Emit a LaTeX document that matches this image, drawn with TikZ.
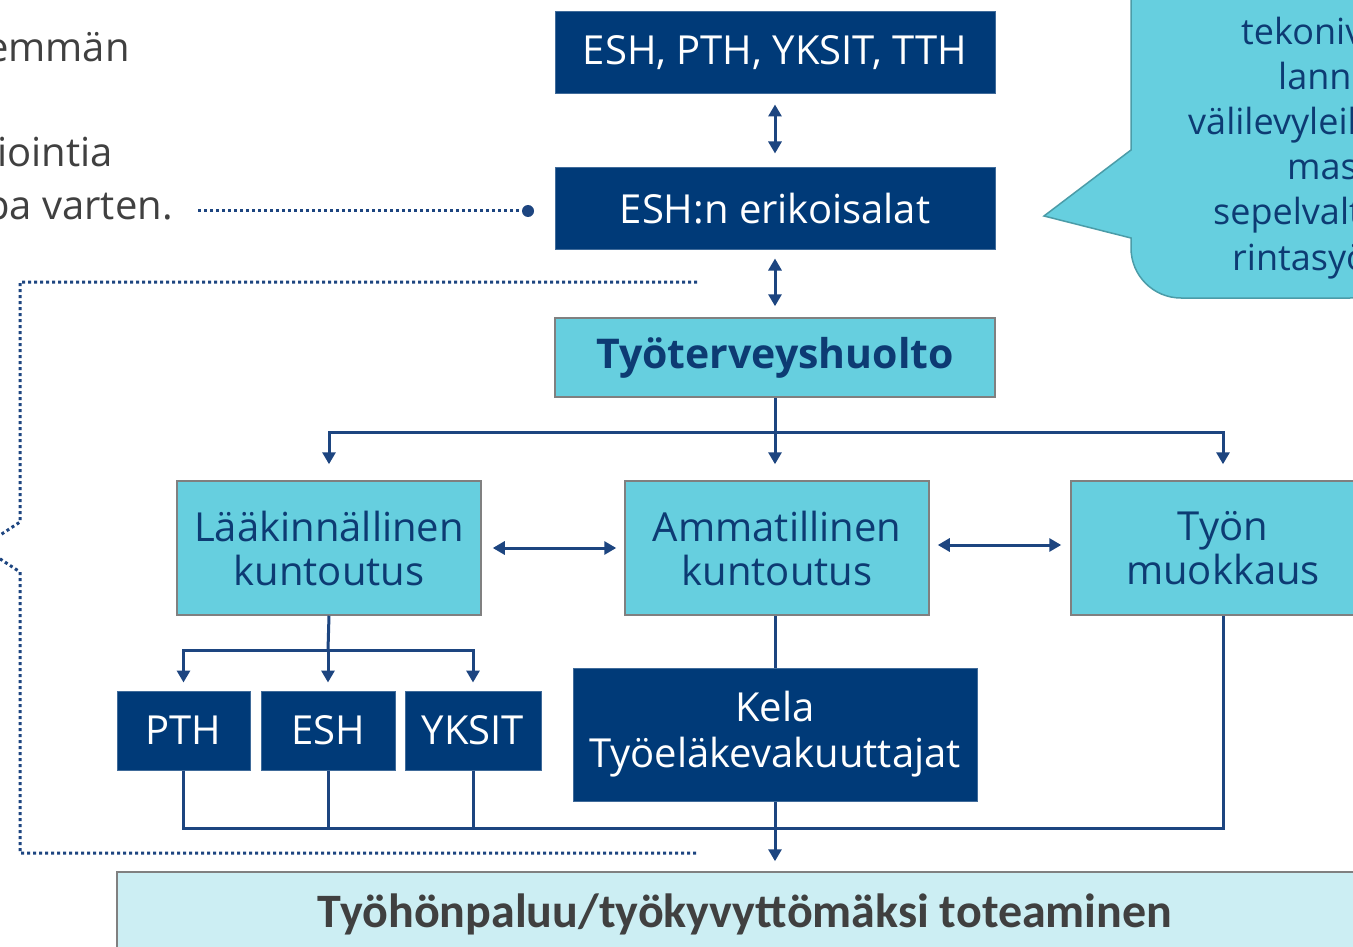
\documentclass[tikz,border=0pt]{standalone}
\usepackage{fontspec}
\setmainfont{Open Sans}
\newfontfamily\carlito{Carlito}
\usetikzlibrary{arrows.meta}

\definecolor{eshblue}{HTML}{003A78}
\definecolor{ttcyan}{HTML}{66CFDF}
\definecolor{palecyan}{HTML}{CCEEF3}
\definecolor{linkblue}{HTML}{1D4580}
\definecolor{darktext}{HTML}{0D3B73}
\definecolor{greytext}{HTML}{404040}
\definecolor{calloutedge}{HTML}{4B9CA8}

\tikzset{
  darkbox/.style={draw=eshblue!75!white, line width=1pt, fill=eshblue, text=white,
    font=\fontsize{40}{46}\selectfont, align=center, inner sep=0pt},
  cyanbox/.style={draw=gray, line width=1.5pt, fill=ttcyan, text=darktext,
    font=\fontsize{40}{44}\selectfont, align=center, inner sep=0pt},
  link/.style={draw=linkblue, line width=3pt},
  oneway/.style={link, -{Triangle[length=12pt,width=13pt]}},
  twoway/.style={link, {Triangle[length=12pt,width=13pt]}-{Triangle[length=12pt,width=13pt]}},
  dotline/.style={draw=linkblue, line width=3pt, dash pattern=on 3pt off 3pt},
  sidetext/.style={text=greytext, font=\fontsize{40}{48}\selectfont, inner sep=0pt},
  callouttext/.style={text=darktext, font=\fontsize{36}{45}\selectfont, inner sep=0pt}
}

\begin{document}
\begin{tikzpicture}[x=1pt,y=-1pt]
  \useasboundingbox (0,0) rectangle (1353,947);
  \fill[white] (0,0) rectangle (1353,947);
  \clip (0,0) rectangle (1353,947);

  % text on the left
  \node[sidetext, anchor=base east] (t1) at (130,62) {emmän};
  \node[sidetext, anchor=base east] (t2) at (113,167) {iointia};
  \node[sidetext, anchor=base east] (t3) at (173,219) {pa varten.};
  \node[circle, fill=linkblue, inner sep=0pt, minimum size=12pt] (pin) at (528,211) {};
  \coordinate (lead) at (198,211);
  \draw[dotline] (lead) -- (pin);

  % dotted bracket
  \draw[dotline] (697,282) -- (20,282) -- (20,522) -- (-18,547) -- (20,572) -- (20,853) -- (697,853);

  % callout
  \draw[fill=ttcyan, draw=calloutedge, line width=1.5pt]
    (1400,-20) -- (1131,-20) -- (1131,150) -- (1044,216) -- (1131,238)
    {[rounded corners=50pt] -- (1131,298) -- (1400,298)} -- cycle;
  \foreach \x/\y/\t [count=\i] in {1241/45/tekoniv, 1278/90/lanne, 1188/135/välilevyleik,
      1287/180/mas, 1213/225/sepelvalt, 1232/270/rintasyö}
    \node[callouttext, anchor=base west] (c\i) at (\x,\y) {\t};

  % boxes
  \node[darkbox, minimum width=440pt, minimum height=82pt] (top) at (775,53) {ESH, PTH, YKSIT, TTH};
  \node[darkbox, minimum width=440pt, minimum height=81pt] (erik) at (775,208.5) {ESH:n erikoisalat};
  \node[cyanbox, minimum width=440pt, minimum height=79pt, font=\fontsize{41}{44}\selectfont\bfseries] (tth) at (775,357.5) {Työterveyshuolto};
  \node[cyanbox, minimum width=304pt, minimum height=134pt] (laak) at (329,548) {Lääkinnällinen\\kuntoutus};
  \node[cyanbox, minimum width=304pt, minimum height=134pt] (amm) at (777,548) {Ammatillinen\\kuntoutus};
  \node[cyanbox, minimum width=304pt, minimum height=134pt] (muok) at (1223,548) {Työn\\muokkaus};
  \node[darkbox, minimum width=133pt, minimum height=79pt] (pth) at (183.5,730.5) {PTH};
  \node[darkbox, minimum width=134pt, minimum height=79pt] (esh) at (328,730.5) {ESH};
  \node[darkbox, minimum width=136pt, minimum height=79pt] (yksit) at (473,730.5) {YKSIT};
  \node[darkbox, minimum width=404pt, minimum height=133pt] (kela) at (775,734.5) {Kela\\Työeläkevakuuttajat};
  \node[draw=gray, line width=1.5pt, fill=palecyan, text=greytext, inner sep=0pt,
    minimum width=1256pt, minimum height=84pt, font=\carlito\bfseries\fontsize{48}{52}\selectfont]
    (paluu) at (745,914) {Työhönpaluu/työkyvyttömäksi toteaminen};

  % connectors
  \coordinate (split) at (775,432);
  \coordinate (fork) at (328,650);
  \coordinate (join) at (775,828);
  \draw[twoway, shorten <=10pt, shorten >=14pt] (top) -- (erik);
  \draw[twoway, shorten <=9pt, shorten >=11pt] (erik) -- (tth);
  \draw[oneway, shorten >=16pt] (tth.south) -- (tth.south |- laak.north);
  \draw[oneway, shorten >=16pt] (split) -| (laak.north);
  \draw[oneway, shorten >=16pt] (split) -| (muok.north);
  \draw[twoway, shorten <=11pt, shorten >=8pt] (laak.east) -- (amm.west);
  \draw[twoway, shorten <=8pt, shorten >=9pt] ([yshift=3pt]amm.east) -- ([yshift=3pt]muok.west);
  \draw[link] (laak.south) -- (fork);
  \draw[oneway, shorten >=8pt] (fork) -| (pth.north);
  \draw[oneway, shorten >=8pt] (fork) -- (esh.north);
  \draw[oneway, shorten >=8pt] (fork) -| (yksit.north);
  \draw[link] (kela.north |- amm.south) -- (kela.north);
  \draw[link] (pth.south) |- (join);
  \draw[link] (esh.south) -- (esh.south |- join);
  \draw[link] (yksit.south) -- (yksit.south |- join);
  \draw[link] (muok.south) |- (join);
  \draw[oneway, shorten >=10pt] (kela.south) -- (kela.south |- paluu.north);
\end{tikzpicture}
\end{document}
